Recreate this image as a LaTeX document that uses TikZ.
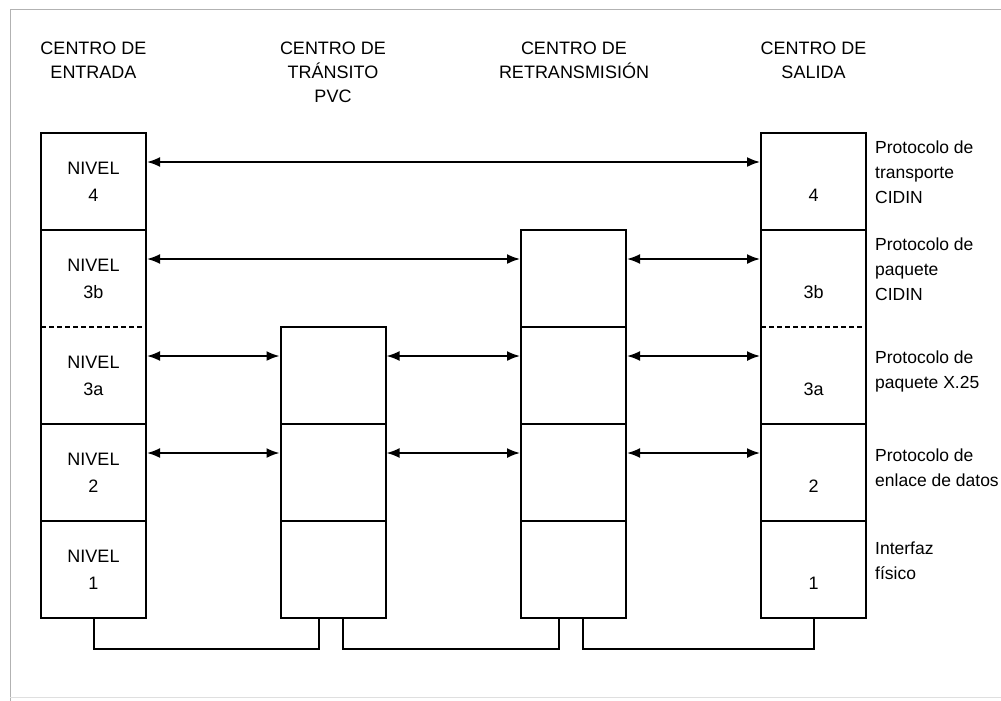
\documentclass[tikz,border=0pt]{standalone}
\usepackage{fontspec}
\setmainfont{Liberation Sans}
\usetikzlibrary{arrows.meta}
\begin{document}
\begin{tikzpicture}[x=1pt,y=-1pt,
 cell/.style={draw, line width=2pt, outer sep=0pt, minimum width=105pt, minimum height=97pt, inner sep=0pt, align=center, font=\fontsize{18}{27}\selectfont},
 open/.style={cell, draw=none},
 head/.style={align=center, font=\fontsize{18}{24}\selectfont, inner sep=0pt},
 side/.style={align=left, anchor=west, font=\fontsize{17.5}{25}\selectfont, inner sep=0pt},
 link/.style={line width=1.8pt, shorten <=1pt, shorten >=1pt, {Latex[length=13pt,width=10pt]}-{Latex[length=13pt,width=10pt]}},
 wire/.style={line width=2pt},
 sep/.style={line width=1.8pt, dash pattern=on 5pt off 3pt},
 frame/.style={gray!60, line width=1pt}]
\useasboundingbox (0,0) rectangle (1001,701);
\fill[white] (0,0) rectangle (1001,701);
\draw[frame] (1001,10) -- (10,10) -- (10,701);
\draw[gray!25] (10,697) -- (1001,697);

% headers
\node[head] (he) at (93.5,60) {CENTRO DE\\ENTRADA};
\node[head] (ht) at (333,72) {CENTRO DE\\TRÁNSITO\\PVC};
\node[head] (hr) at (574,60) {CENTRO DE\\RETRANSMISIÓN};
\node[head] (hs) at (813.5,60) {CENTRO DE\\SALIDA};

% centro de entrada
\node[cell] (e4) at (93.5,181.5) {NIVEL\\4};
\node[open] (e3b) at (93.5,278.5) {NIVEL\\3b};
\node[open] (e3a) at (93.5,375.5) {NIVEL\\3a};
\node[cell] (e2) at (93.5,472.5) {NIVEL\\2};
\node[cell] (e1) at (93.5,569.5) {NIVEL\\1};
\draw[line width=2pt] (e3b.north west) -- (e3a.south west) (e3b.north east) -- (e3a.south east);
\draw[sep] (e3b.south west) -- (e3b.south east);

% centro de transito
\node[cell] (t3a) at (333,375.5) {};
\node[cell] (t2) at (333,472.5) {};
\node[cell] (t1) at (333,569.5) {};

% centro de retransmision
\node[cell] (r3b) at (573.5,278.5) {};
\node[cell] (r3a) at (573.5,375.5) {};
\node[cell] (r2) at (573.5,472.5) {};
\node[cell] (r1) at (573.5,569.5) {};

% centro de salida
\node[cell] (s4) at (813.5,181.5) {\vphantom{N}\\4};
\node[open] (s3b) at (813.5,278.5) {\vphantom{N}\\3b};
\node[open] (s3a) at (813.5,375.5) {\vphantom{N}\\3a};
\node[cell] (s2) at (813.5,472.5) {\vphantom{N}\\2};
\node[cell] (s1) at (813.5,569.5) {\vphantom{N}\\1};
\draw[line width=2pt] (s3b.north west) -- (s3a.south west) (s3b.north east) -- (s3a.south east);
\draw[sep] (s3b.south west) -- (s3b.south east);

% side labels
\node[side] (l4) at (875,172) {Protocolo de\\transporte\\CIDIN};
\node[side] (l3b) at (875,269) {Protocolo de\\paquete\\CIDIN};
\node[side] (l3a) at (875,371) {Protocolo de\\paquete X.25};
\node[side] (l2) at (875,467.5) {Protocolo de\\enlace de datos};
\node[side] (l1) at (875,560.5) {Interfaz\\físico};

% peer arrows
\draw[link] ([yshift=19.5pt]e4.east) -- ([yshift=19.5pt]s4.west);
\draw[link] ([yshift=19.5pt]e3b.east) -- ([yshift=19.5pt]r3b.west);
\draw[link] ([yshift=19.5pt]r3b.east) -- ([yshift=19.5pt]s3b.west);
\draw[link] ([yshift=19.5pt]e3a.east) -- ([yshift=19.5pt]t3a.west);
\draw[link] ([yshift=19.5pt]t3a.east) -- ([yshift=19.5pt]r3a.west);
\draw[link] ([yshift=19.5pt]r3a.east) -- ([yshift=19.5pt]s3a.west);
\draw[link] ([yshift=19.5pt]e2.east) -- ([yshift=19.5pt]t2.west);
\draw[link] ([yshift=19.5pt]t2.east) -- ([yshift=19.5pt]r2.west);
\draw[link] ([yshift=19.5pt]r2.east) -- ([yshift=19.5pt]s2.west);

% physical wires
\draw[wire] (e1.south) -- ++(0,31) -| ([xshift=-14pt]t1.south);
\draw[wire] ([xshift=10pt]t1.south) -- ++(0,31) -| ([xshift=-14.5pt]r1.south);
\draw[wire] ([xshift=9.5pt]r1.south) -- ++(0,31) -| (s1.south);
\end{tikzpicture}
\end{document}
